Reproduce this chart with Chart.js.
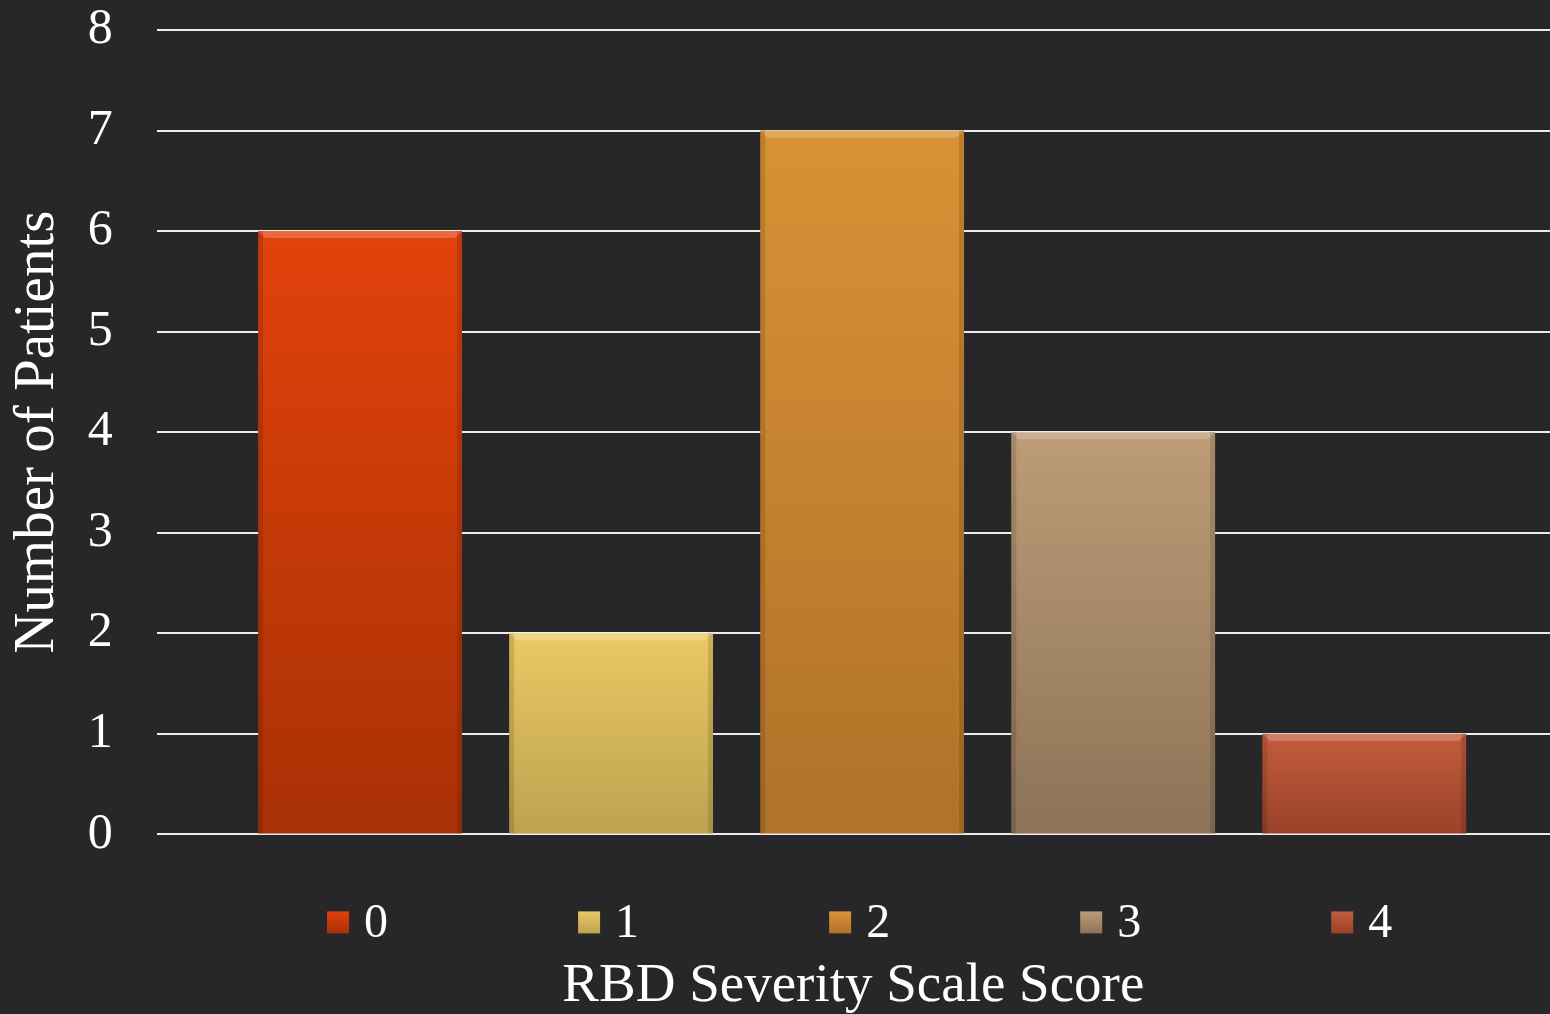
<!DOCTYPE html>
<html>
<head>
<meta charset="utf-8">
<script src="https://cdn.jsdelivr.net/npm/chart.js@4.4.1/dist/chart.umd.min.js"></script>
<style>
  html, body { margin: 0; padding: 0; background: #27272a; }
  #wrap { width: 1550px; height: 1014px; }
</style>
</head>
<body>
<div id="wrap"><canvas id="chart"></canvas></div>
<script>
// RBD severity score (category) and patient counts
const scores = [0, 1, 2, 3, 4];
const patients = [6, 2, 7, 4, 1];
const yTicks = [0, 1, 2, 3, 4, 5, 6, 7, 8];

const topColors = ['#e2420b', '#e9c962', '#d99135', '#bd9c77', '#c25c3c'];
const bottomColors = ['#a83105', '#bea24f', '#b07229', '#8c7357', '#9a4229'];

const serif = "'Liberation Serif', 'Times New Roman', serif";

function barGradient(ctx) {
  const chart = ctx.chart;
  const i = ctx.dataIndex;
  if (!chart.chartArea || ctx.type !== 'data') return topColors[i] || topColors[0];
  const yScale = chart.scales.y;
  const top = yScale.getPixelForValue(ctx.parsed.y);
  const base = yScale.getPixelForValue(0);
  const g = chart.ctx.createLinearGradient(0, top, 0, base);
  g.addColorStop(0, topColors[i]);
  g.addColorStop(1, bottomColors[i]);
  return g;
}

// light bevel on the top edge of each bar, like the original
const bevelPlugin = {
  id: 'bevel',
  afterDatasetsDraw(chart) {
    const c = chart.ctx;
    chart.getDatasetMeta(0).data.forEach(function (bar) {
      const p = bar.getProps(['x', 'y', 'width', 'base'], true);
      const l = p.x - p.width / 2, r = p.x + p.width / 2;
      c.save();
      c.fillStyle = 'rgba(255,255,255,0.22)';
      c.beginPath();
      c.moveTo(l, p.y); c.lineTo(r, p.y); c.lineTo(r - 7, p.y + 7); c.lineTo(l + 7, p.y + 7);
      c.closePath(); c.fill();
      c.fillStyle = 'rgba(0,0,0,0.12)';
      c.fillRect(l, p.y, 5, p.base - p.y);
      c.fillRect(r - 5, p.y, 5, p.base - p.y);
      c.restore();
    });
  }
};

// coloured squares next to the score labels under each bar
const keyPlugin = {
  id: 'keySquares',
  afterDraw(chart) {
    const c = chart.ctx;
    const xs = chart.scales.x;
    const y0 = chart.chartArea.bottom + 77;
    xs.ticks.forEach(function (t, i) {
      const px = xs.getPixelForTick(i);
      const k = scores.indexOf(t.value);
      if (k < 0) return;
      const g = c.createLinearGradient(0, y0, 0, y0 + 22);
      g.addColorStop(0, topColors[k]);
      g.addColorStop(1, bottomColors[k]);
      c.save();
      c.fillStyle = g;
      c.fillRect(px - 33, y0, 22, 22);
      c.restore();
    });
  }
};

new Chart(document.getElementById('chart'), {
  type: 'bar',
  data: {
    datasets: [{
      label: 'Number of Patients',
      data: scores.map(function (s, i) { return { x: s, y: patients[i] }; }),
      backgroundColor: barGradient,
      borderWidth: 0,
      barPercentage: 0.812,
      categoryPercentage: 1.0
    }]
  },
  options: {
    responsive: true,
    maintainAspectRatio: false,
    animation: false,
    layout: { padding: { top: 29, left: 5, right: 0, bottom: 0 } },
    plugins: {
      legend: { display: false },
      tooltip: { enabled: false }
    },
    scales: {
      x: {
        type: 'linear',
        offset: false,
        min: -0.81,
        max: 4.74,
        grid: { display: true, drawOnChartArea: false, color: 'rgba(0,0,0,0)', tickColor: 'rgba(0,0,0,0)', tickLength: 57 },
        border: { display: false },
        afterBuildTicks: function (scale) {
          scale.ticks = scores.map(function (s) { return { value: s }; });
        },
        ticks: {
          color: '#ffffff',
          font: { family: serif, size: 48 },
          padding: 4,
          labelOffset: 16,
          maxRotation: 0,
          callback: function (v) { return String(v); }
        },
        title: {
          display: true,
          text: 'RBD Severity Scale Score',
          color: '#ffffff',
          font: { family: serif, size: 55, lineHeight: 1.0 },
          padding: { top: 2, bottom: 0 }
        }
      },
      y: {
        min: 0,
        max: 8,
        afterBuildTicks: function (scale) {
          scale.ticks = yTicks.map(function (v) { return { value: v }; });
        },
        grid: { color: '#ececec', lineWidth: 2, drawTicks: true, tickLength: 44, tickColor: 'rgba(0,0,0,0)' },
        border: { display: false },
        ticks: {
          color: '#ffffff',
          font: { family: serif, size: 50 },
          padding: 0
        },
        title: {
          display: true,
          text: 'Number of Patients',
          color: '#ffffff',
          font: { family: serif, size: 57, lineHeight: 1.1 },
          padding: { top: 2, bottom: 18 }
        }
      }
    }
  },
  plugins: [bevelPlugin, keyPlugin]
});
</script>
</body>
</html>
